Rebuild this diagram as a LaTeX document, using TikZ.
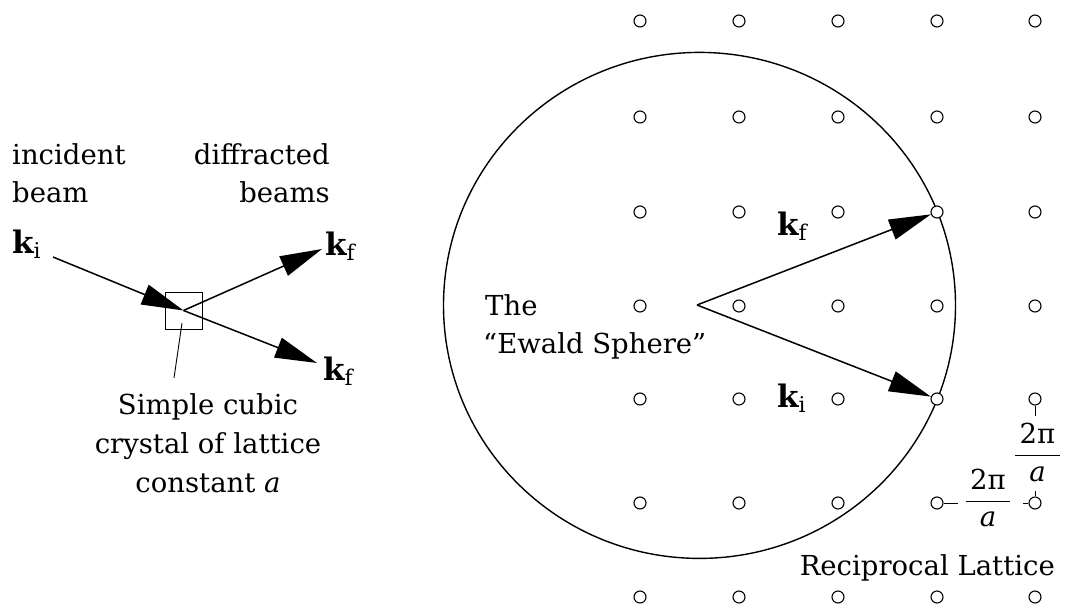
\documentclass[tikz,border=0pt]{standalone}
\usepackage{fix-cm}
\usepackage{fontspec}
\setmainfont{DejaVu Serif}
\usetikzlibrary{arrows.meta}
\pgfdeclarelayer{background}
\pgfsetlayers{background,main}
\newcommand{\twopia}{$\displaystyle\frac{\mbox{\,2π\,}}{\mbox{\itshape a}}$}
\begin{document}
\begin{tikzpicture}[x=1pt,y=-1pt,
  lat/.style={circle,draw,fill=white,line width=1.1pt,minimum size=12pt,inner sep=0pt},
  beam/.style={line width=1.5pt,-{Triangle[length=42pt,width=21pt]}},
  lbl/.style={inner sep=0pt,font=\fontsize{27.5}{33}\selectfont},
  kl/.style={inner sep=0pt,font=\fontsize{31}{37}\selectfont},
  thin line/.style={line width=0.9pt},
]
\useasboundingbox (0,0) rectangle (1066,608);

% reciprocal lattice
\foreach \x [count=\i] in {640,739,838,937,1035} {
  \foreach \y [count=\j] in {21,117,212,306,399,503,597} {
    \node[lat] (p\i\j) at (\x,\y) {};
  }
}

% Ewald sphere
\coordinate (O) at (697,305);
\begin{pgfonlayer}{background}
  \draw[line width=1.4pt] (699.5,305.4) ellipse [x radius=256pt, y radius=253pt];
  \draw[beam] (O) -- (p43);
  \draw[beam] (O) -- (p45);
\end{pgfonlayer}

\node[kl,anchor=base west] (kfR) at (777,235) {$\mathbf{k}_{\mathrm{f}}$};
\node[kl,anchor=base west] (kiR) at (777,407) {$\mathbf{k}_{\mathrm{i}}$};
\node[lbl,anchor=base west] (the) at (485,315) {The};
\node[lbl,anchor=base west] (ewald) at (483,353) {``Ewald Sphere''};

% spacing marks
\draw[thin line] (p55.south) -- ++(0,10);
\draw[thin line] (p56.north) -- ++(0,-5);
\draw[thin line] (p56.west) -- ++(-5,0);
\draw[thin line] (p46.east) -- ++(14,0);
\node[lbl,anchor=base] (fv) at (1037.5,462.5) {\twopia};
\node[lbl,anchor=base] (fh) at (988,508) {\twopia};
\node[lbl,anchor=base east] (rl) at (1055,575) {Reciprocal Lattice};

% left: crystal and beams
\node[draw,line width=0.9pt,minimum size=37pt,inner sep=0pt] (xtal) at (183.5,310.5) {};
\coordinate (src) at (53,257);
\coordinate (up) at (322,249);
\coordinate (dn) at (317,363);
\draw[beam] (src) -- (xtal.center);
\draw[beam] (xtal.center) -- (up);
\draw[beam] (xtal.center) -- (dn);

\node[lbl,anchor=base west] (inc) at (12,164) {incident};
\node[lbl,anchor=base west] (beam) at (12,202) {beam};
\node[lbl,anchor=base east] (dif) at (330,164) {diffracted};
\node[lbl,anchor=base east] (beams) at (330,202) {beams};
\node[kl,anchor=base west] (kiL) at (12,253) {$\mathbf{k}_{\mathrm{i}}$};
\node[kl,anchor=base west] (kfU) at (325,255) {$\mathbf{k}_{\mathrm{f}}$};
\node[kl,anchor=base west] (kfD) at (323,380) {$\mathbf{k}_{\mathrm{f}}$};

\coordinate (ptop) at (182,323);
\coordinate (pbot) at (174,378);
\draw[thin line] (ptop) -- (pbot);
\node[lbl,anchor=base] (s1) at (208,414) {Simple cubic};
\node[lbl,anchor=base] (s2) at (208,453) {crystal of lattice};
\node[lbl,anchor=base] (s3) at (208,492) {constant \textit{a}};
\end{tikzpicture}
\end{document}
